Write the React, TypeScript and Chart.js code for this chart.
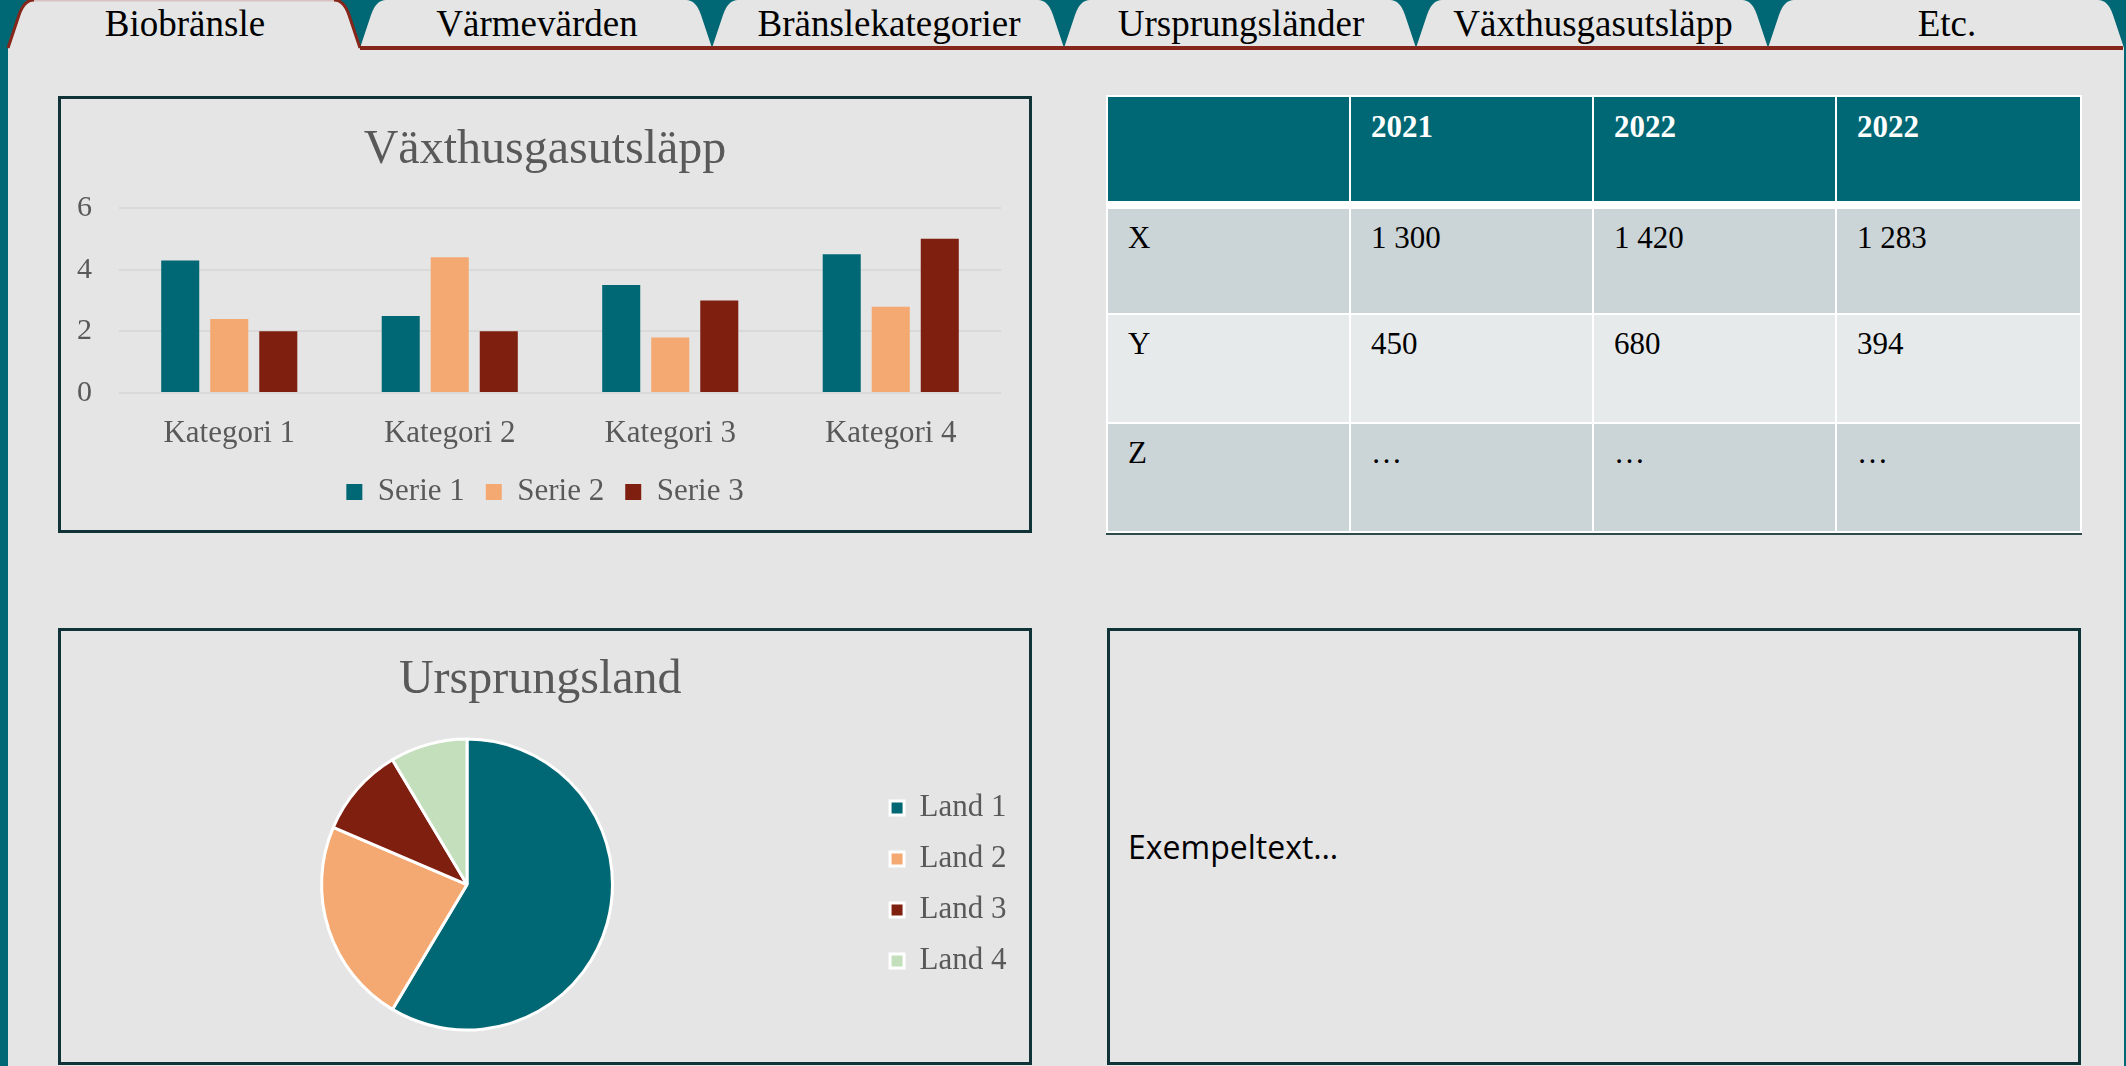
import React, { useEffect, useRef } from "react";
import { Chart, registerables } from "chart.js";

Chart.register(...registerables);

// ---------------- data ----------------
const TABS = ["Biobränsle", "Värmevärden", "Bränslekategorier", "Ursprungsländer", "Växthusgasutsläpp", "Etc."];

const BAR_TITLE = "Växthusgasutsläpp";
const BAR_CATEGORIES = ["Kategori 1", "Kategori 2", "Kategori 3", "Kategori 4"];
const SERIES_NAMES = ["Serie 1", "Serie 2", "Serie 3"];
const SERIE_1 = [4.3, 2.5, 3.5, 4.5];
const SERIE_2 = [2.4, 4.4, 1.8, 2.8];
const SERIE_3 = [2, 2, 3, 5];
const Y_MIN = 0;
const Y_MAX = 6;
const Y_STEP = 2;

const PIE_TITLE = "Ursprungsland";
const PIE_LABELS = ["Land 1", "Land 2", "Land 3", "Land 4"];
const PIE_VALUES = [8.2, 3.2, 1.4, 1.2];

const TABLE_HEADER = ["", "2021", "2022", "2022"];
const TABLE_ROW_LABELS = ["X", "Y", "Z"];
const TABLE_X = ["1 300", "1 420", "1 283"];
const TABLE_Y = ["450", "680", "394"];
const TABLE_Z = ["…", "…", "…"];

const NOTE_TEXT = "Exempeltext…";

// ---------------- styles ----------------
const TEAL = "#006874";
const ORANGE = "#F5A972";
const DARK_RED = "#7F1F10";
const LIGHT_GREEN = "#C3DFBB";
const TEXT_GRAY = "#595959";
const BG = "#E5E5E5";
const BOX_BORDER = "#0F3337";
const TAB_RED = "#86261A";
const ROW_DARK = "#CBD4D7";
const ROW_LIGHT = "#E6EAEB";
const SERIF = "'Liberation Serif', 'Times New Roman', serif";

const TAB_EDGES = [8, 360, 712, 1064, 1416, 1768, 2124];

function BarChart() {
  const ref = useRef<HTMLCanvasElement | null>(null);
  useEffect(() => {
    const canvas = ref.current;
    if (!canvas) return;
    const chart = new Chart(canvas, {
      type: "bar",
      data: {
        labels: BAR_CATEGORIES,
        datasets: [
          { label: SERIES_NAMES[0], data: SERIE_1, backgroundColor: TEAL },
          { label: SERIES_NAMES[1], data: SERIE_2, backgroundColor: ORANGE },
          { label: SERIES_NAMES[2], data: SERIE_3, backgroundColor: DARK_RED },
        ],
      },
      options: {
        responsive: false,
        animation: false,
        devicePixelRatio: 1,
        layout: { padding: { left: 0, right: 0, top: 0, bottom: 12.5 } },
        datasets: { bar: { categoryPercentage: 0.667, barPercentage: 0.776 } },
        plugins: {
          title: {
            display: true,
            text: BAR_TITLE,
            color: TEXT_GRAY,
            font: { family: SERIF, size: 48, weight: "normal" },
            padding: { top: 22.5, bottom: 28.9 },
          },
          legend: {
            position: "bottom",
            fullSize: true,
            labels: {
              boxWidth: 16,
              boxHeight: 16,
              padding: 21,
              color: TEXT_GRAY,
              font: { family: SERIF, size: 31 },
            },
          },
          tooltip: { enabled: false },
        },
        scales: {
          x: {
            grid: { display: false, drawTicks: false },
            border: { display: false },
            ticks: { color: TEXT_GRAY, padding: 22, font: { family: SERIF, size: 31 } },
            afterFit: (s: any) => {
              s.height = 62.5;
            },
          },
          y: {
            min: Y_MIN,
            max: Y_MAX,
            grid: { color: "#D9D9D9", lineWidth: 2, drawTicks: false },
            border: { display: false },
            ticks: { stepSize: Y_STEP, color: TEXT_GRAY, padding: 27, font: { family: SERIF, size: 30 } },
            afterFit: (s: any) => {
              s.width = 58;
            },
          },
          yRight: {
            type: "linear",
            axis: "y",
            position: "right",
            display: true,
            grid: { display: false, drawTicks: false },
            border: { display: false },
            ticks: { display: false },
            afterFit: (s: any) => {
              s.width = 28;
            },
          },
        },
      } as any,
    });
    return () => chart.destroy();
  }, []);
  return (
    <canvas
      ref={ref}
      width={968}
      height={431}
      style={{ position: "absolute", left: 61, top: 99, width: 968, height: 431, display: "block" }}
    />
  );
}

function PieChart() {
  const ref = useRef<HTMLCanvasElement | null>(null);
  useEffect(() => {
    const canvas = ref.current;
    if (!canvas) return;
    const chart = new Chart(canvas, {
      type: "pie",
      data: {
        labels: PIE_LABELS,
        datasets: [
          {
            data: PIE_VALUES,
            backgroundColor: [TEAL, ORANGE, DARK_RED, LIGHT_GREEN],
            borderColor: "#FFFFFF",
            borderWidth: 3,
          },
        ],
      },
      options: {
        responsive: false,
        animation: false,
        devicePixelRatio: 1,
        layout: { padding: { left: 3, right: 12.5, top: 0, bottom: 30.5 } },
        plugins: {
          title: {
            display: true,
            text: PIE_TITLE,
            color: TEXT_GRAY,
            font: { family: SERIF, size: 48, weight: "normal" },
            padding: { top: 21, bottom: 28 },
          },
          legend: {
            position: "right",
            fullSize: false,
            labels: {
              boxWidth: 14,
              boxHeight: 14,
              padding: 20,
              color: TEXT_GRAY,
              font: { family: SERIF, size: 31 },
            },
          },
          tooltip: { enabled: false },
        },
      } as any,
    });
    return () => chart.destroy();
  }, []);
  return (
    <canvas
      ref={ref}
      width={968}
      height={431}
      style={{ position: "absolute", left: 61, top: 631, width: 968, height: 431, display: "block" }}
    />
  );
}

function Tabs() {
  const activeR = TAB_EDGES[1];
  return (
    <svg width={2126} height={54} style={{ position: "absolute", left: 0, top: 0 }}>
      <rect x={0} y={0} width={2126} height={48} fill={TEAL} />
      {TABS.map((_, i) => {
        const l = TAB_EDGES[i];
        const r = TAB_EDGES[i + 1];
        const d = `M ${l} 48 L ${l + 11} 15 Q ${l + 16} 0 ${l + 26} 0 L ${r - 26} 0 Q ${r - 16} 0 ${r - 11} 15 L ${r} 48 Z`;
        return <path key={i} d={d} fill={BG} />;
      })}
      <rect x={activeR} y={46} width={2123 - activeR} height={4} fill={TAB_RED} />
      <path d={`M 8 48 L 19 15 Q 24 0 34 0`} stroke={TAB_RED} strokeWidth={3} fill="none" />
      <path
        d={`M ${activeR - 26} 0 Q ${activeR - 16} 0 ${activeR - 11} 15 L ${activeR} 48`}
        stroke={TAB_RED}
        strokeWidth={3}
        fill="none"
      />
      <line x1={34} y1={0.75} x2={activeR - 26} y2={0.75} stroke="#D9C2C2" strokeWidth={1.5} />
      {TABS.map((t, i) => (
        <text
          key={t}
          x={(TAB_EDGES[i] + TAB_EDGES[i + 1]) / 2 + 1}
          y={36}
          textAnchor="middle"
          fontFamily={SERIF}
          fontSize={37}
          fill="#000"
        >
          {t}
        </text>
      ))}
    </svg>
  );
}

function DataTable() {
  const colLeft = [1108, 1351, 1594, 1837];
  const colWidth = [241, 241, 241, 243];
  const rows = [
    { top: 97, h: 104, bg: TEAL, cells: TABLE_HEADER, header: true },
    { top: 209, h: 104, bg: ROW_DARK, cells: [TABLE_ROW_LABELS[0], ...TABLE_X], header: false },
    { top: 315, h: 107, bg: ROW_LIGHT, cells: [TABLE_ROW_LABELS[1], ...TABLE_Y], header: false },
    { top: 424, h: 107, bg: ROW_DARK, cells: [TABLE_ROW_LABELS[2], ...TABLE_Z], header: false },
  ];
  return (
    <>
      <div style={{ position: "absolute", left: 1106, top: 95, width: 976, height: 438, background: "#FFFFFF" }} />
      <div style={{ position: "absolute", left: 1106, top: 533, width: 976, height: 2, background: "#2F4A4D" }} />
      {rows.map((row, ri) =>
        row.cells.map((c, ci) => (
          <div
            key={`${ri}-${ci}`}
            style={{
              position: "absolute",
              left: colLeft[ci],
              top: row.top,
              width: colWidth[ci],
              height: row.h,
              background: row.bg,
              boxSizing: "border-box",
              paddingLeft: 20,
              paddingTop: row.header ? 14 : 13,
              fontFamily: SERIF,
              fontSize: 31,
              lineHeight: "31px",
              fontWeight: row.header ? "bold" : "normal",
              color: row.header ? "#FFFFFF" : "#000000",
              whiteSpace: "nowrap",
            }}
          >
            {c}
          </div>
        ))
      )}
    </>
  );
}

const boxStyle = (left: number, top: number): React.CSSProperties => ({
  position: "absolute",
  left,
  top,
  width: 974,
  height: 437,
  border: `3px solid ${BOX_BORDER}`,
  boxSizing: "border-box",
});

export default function App() {
  return (
    <div
      style={{
        position: "fixed",
        left: 0,
        top: 0,
        width: 2126,
        height: 1066,
        background: BG,
        overflow: "hidden",
      }}
    >
      <div style={{ position: "absolute", left: 0, top: 0, width: 8, height: 1066, background: TEAL }} />
      <div style={{ position: "absolute", left: 2124, top: 0, width: 2, height: 1066, background: TEAL }} />
      <Tabs />
      <div style={boxStyle(58, 96)} />
      <BarChart />
      <DataTable />
      <div style={boxStyle(58, 628)} />
      <PieChart />
      <div
        style={{
          ...boxStyle(1107, 628),
          display: "flex",
          alignItems: "center",
          paddingLeft: 18,
          fontFamily: "'Open Sans', sans-serif",
          fontSize: 32,
          color: "#000",
        }}
      >
        {NOTE_TEXT}
      </div>
    </div>
  );
}
